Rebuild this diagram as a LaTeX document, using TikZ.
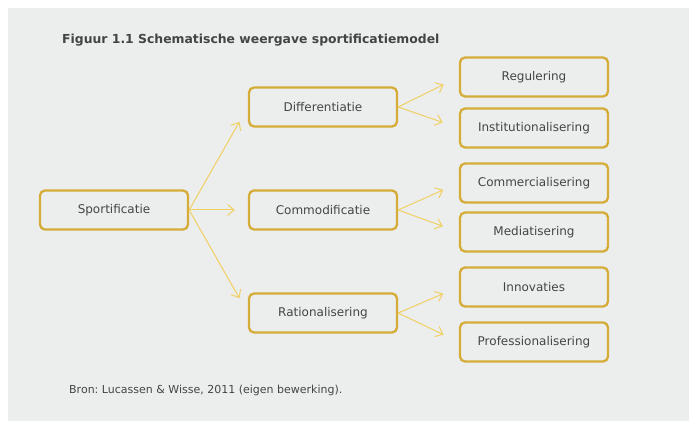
\documentclass[tikz,border=0pt]{standalone}
\usepackage{fontspec}
\setmainfont{DejaVu Sans}
\frenchspacing
\usetikzlibrary{arrows.meta}
\definecolor{bggray}{HTML}{ECEEEE}
\definecolor{boxgold}{HTML}{D6AC38}
\definecolor{linegold}{HTML}{F0D062}
\definecolor{txtgray}{HTML}{444444}
\tikzset{
  box/.style={draw=boxgold, line width=2.3pt, rounded corners=5pt, minimum width=148pt, minimum height=39pt, inner sep=0pt, text=txtgray, font=\fontsize{12}{14}\selectfont},
  conn/.style={draw=linegold, line width=1pt, -{Straight Barb[length=6.5pt,width=11pt,line width=1pt]}, shorten >=17pt},
  connm/.style={conn, shorten >=13pt},
  plain/.style={anchor=base west, inner sep=0pt, text=txtgray}
}
\begin{document}
\begin{tikzpicture}[x=1pt,y=-1pt]
\useasboundingbox (0,0) rectangle (689,425);
\fill[white] (0,0) rectangle (689,425);
\fill[bggray] (8,8) rectangle (689,421);
\node[plain, font=\fontsize{12.4}{14}\selectfont\bfseries] (title) at (62,44) {Figuur 1.1 Schematische weergave sportificatiemodel};
\node[box] (sport) at (114,210) {Sportificatie};
\node[box] (diff) at (323,107) {Differentiatie};
\node[box] (comm) at (323,210) {Commodificatie};
\node[box] (rat) at (323,313) {Rationalisering};
\node[box] (reg) at (534,77) {Regulering};
\node[box] (inst) at (534,128) {Institutionalisering};
\node[box] (comc) at (534,183) {Commercialisering};
\node[box] (med) at (534,232) {Mediatisering};
\node[box] (inno) at (534,287) {Innovaties};
\node[box] (prof) at (534,342) {Professionalisering};
\node[plain, font=\fontsize{11}{13}\selectfont] (bron) at (69,393) {Bron: Lucassen \& Wisse, 2011 (eigen bewerking).};
\draw[conn] (sport.east) -- (diff.west);
\draw[connm] (sport.east) -- (comm.west);
\draw[conn] (sport.east) -- (rat.west);
\draw[conn] (diff.east) -- (reg.west);
\draw[conn] (diff.east) -- (inst.west);
\draw[conn] (comm.east) -- (comc.west);
\draw[conn] (comm.east) -- (med.west);
\draw[conn] (rat.east) -- (inno.west);
\draw[conn] (rat.east) -- (prof.west);
\end{tikzpicture}
\end{document}
